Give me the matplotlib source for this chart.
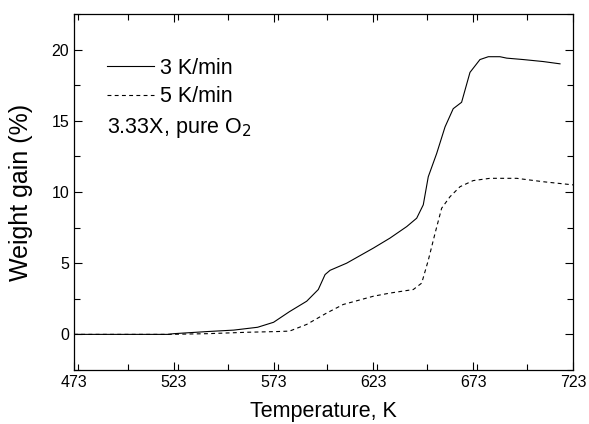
"""Weight gain vs temperature at two heating rates (3.33X, pure O2).
Output: out.png
"""

import numpy as np
import matplotlib.pyplot as plt
from matplotlib.ticker import MultipleLocator

plt.rcParams['font.family'] = ['Liberation Sans', 'DejaVu Sans']

# 3 K/min (solid)
T_SLOW = [473, 500, 520, 523, 540, 553, 565, 573, 581, 589.6, 595.4, 598.8,
          601.3, 609.6, 623, 631.3, 639.7, 644.7, 648, 650.5, 654.7, 658.9,
          663, 667.2, 671.4, 676.4, 680.6, 686.4, 689.8, 698.1, 708.1, 716.5]
W_SLOW = [0.0, 0.0, 0.0, 0.05, 0.2, 0.3, 0.5, 0.85, 1.6, 2.33, 3.15, 4.2,
          4.5, 5.0, 6.06, 6.76, 7.57, 8.16, 9.1, 11.07, 12.7, 14.57,
          15.85, 16.3, 18.4, 19.3, 19.5, 19.5, 19.4, 19.3, 19.16, 19.0]

# 5 K/min (dashed)
T_FAST = [473, 500, 520, 540, 560, 575, 581, 589.6, 599.6, 607.9, 623,
          631.3, 643, 647.2, 650.5, 653.9, 657.2, 661.4, 666.4, 673, 681.4,
          694.8, 708.1, 723]
W_FAST = [0.0, 0.0, 0.0, 0.05, 0.15, 0.2, 0.23, 0.7, 1.5, 2.1, 2.68,
          2.9, 3.15, 3.6, 5.2, 7.1, 8.86, 9.67, 10.37, 10.8, 10.96,
          10.96, 10.72, 10.5]


def main():
    fig = plt.figure(figsize=(5.89, 4.24), dpi=100)
    ax = fig.add_axes([0.1256, 0.1274, 0.8472, 0.8396])

    ax.plot(T_SLOW, W_SLOW, '-', color='black', lw=0.8, label='3 K/min')
    ax.plot(T_FAST, W_FAST, '--', color='black', lw=0.8,
            dashes=(3.5, 3), label='5 K/min')

    ax.set_xlim(473, 723)
    ax.set_ylim(-2.5, 22.5)
    ax.set_xticks(np.arange(473, 724, 50))
    ax.set_yticks(np.arange(0, 21, 5))
    ax.xaxis.set_minor_locator(MultipleLocator(25))
    ax.yaxis.set_minor_locator(MultipleLocator(2.5))
    ax.tick_params(which='both', direction='in', top=True, right=True,
                   width=0.8, labelsize=11.5)
    ax.tick_params(which='major', length=6)
    ax.tick_params(which='minor', length=4)
    for s in ax.spines.values():
        s.set_linewidth(0.9)

    ax.set_xlabel('Temperature, K', fontsize=15.5, labelpad=8)
    ax.set_ylabel('Weight gain (%)', fontsize=18, labelpad=13)

    ax.legend(loc='upper left', frameon=False, fontsize=15.5,
              handlelength=2.2, handletextpad=0.25, labelspacing=0.35,
              borderpad=0, borderaxespad=0,
              bbox_to_anchor=(0.066, 0.877))
    ax.text(0.066, 0.68, '3.33X, pure O$_2$', transform=ax.transAxes,
            fontsize=15.5, ha='left', va='center')

    fig.savefig('out.png', dpi=100)
    plt.close(fig)


if __name__ == '__main__':
    main()
